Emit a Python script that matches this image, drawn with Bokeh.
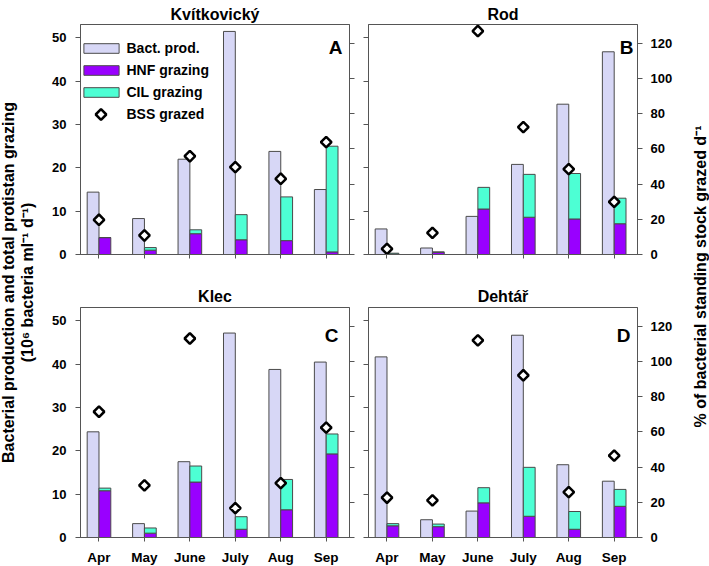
import numpy as np
from bokeh.plotting import figure
from bokeh.models import (Range1d, LinearAxis, FixedTicker, ColumnDataSource,
                          Label, Legend, LegendItem, PolyAnnotation)
from bokeh.transform import dodge
from bokeh.layouts import row, column
from bokeh.embed import file_html
from bokeh.resources import INLINE

# ---------------- data ----------------
months = ["Apr", "May", "June", "July", "Aug", "Sep"]
left_ticks = [0, 10, 20, 30, 40, 50]
right_ticks = [0, 20, 40, 60, 80, 100, 120]

titles = ["Kvítkovický", "Rod", "Klec", "Dehtář"]
letters = ["A", "B", "C", "D"]

bact_A = [14.4, 8.3, 22.0, 51.5, 23.8, 15.0]
hnf_A = [3.9, 1.0, 4.8, 3.4, 3.2, 0.6]
cil_A = [0.0, 0.6, 0.9, 5.8, 10.1, 24.4]
bss_A = [19.7, 10.8, 55.8, 49.6, 43.0, 63.8]

bact_B = [5.9, 1.5, 8.8, 20.8, 34.7, 46.8]
hnf_B = [0.1, 0.5, 10.5, 8.6, 8.2, 7.1]
cil_B = [0.2, 0.1, 5.0, 9.9, 10.5, 5.9]
bss_B = [3.2, 12.3, 126.9, 72.3, 48.5, 29.9]

bact_C = [24.4, 3.2, 17.5, 47.2, 38.8, 40.5]
hnf_C = [10.8, 1.0, 12.8, 1.9, 6.4, 19.3]
cil_C = [0.6, 1.2, 3.7, 2.9, 7.0, 4.6]
bss_C = [71.4, 29.6, 113.0, 16.7, 30.9, 62.4]

bact_D = [41.7, 4.1, 6.1, 46.7, 16.8, 13.0]
hnf_D = [2.7, 2.5, 8.0, 4.9, 1.9, 7.2]
cil_D = [0.5, 0.6, 3.5, 11.3, 4.1, 3.9]
bss_D = [22.6, 21.1, 111.9, 92.1, 25.8, 46.5]

# ---------------- style ----------------
FONT = "Liberation Sans"
C_BACT = "#d7d7f6"
C_HNF = "#9900ff"
C_CIL = "#4dffd4"
C_EDGE = "#4a4a4a"
C_FRAME = "#555555"
FW, FH = 269, 230
X0, X1 = -0.407, 5.513
YL, YR = 53.1, 130.6
BW = 0.26
PPX = FW / (X1 - X0)
PPY = FH / YL
letter_dx = [7, 4, 11, 7]
letter_dy = [23, 23, 28, 28]
MSIZE = 7.5
MLW = 2.5


def style_axis(ax, show_labels, standoff=8, tick_out=5, size="13px"):
    ax.axis_line_color = C_FRAME
    ax.major_tick_line_color = C_FRAME
    ax.major_tick_in = 0
    ax.major_tick_out = tick_out
    ax.minor_tick_line_color = None
    ax.major_label_text_font = FONT
    ax.major_label_text_font_style = "bold"
    ax.major_label_text_color = "#000000"
    if show_labels:
        ax.major_label_text_font_size = size
        ax.major_label_standoff = standoff
    else:
        ax.major_label_text_font_size = "0px"
        ax.major_label_standoff = 0


def make_panel(idx, bact, hnf, cil, bss, top_row, left_col):
    p = figure(frame_width=FW, frame_height=FH,
               x_range=Range1d(X0, X1), y_range=Range1d(0, YL),
               output_backend="svg", toolbar_location=None,
               title=titles[idx],
               min_border_left=32 if left_col else 9,
               min_border_right=10 if left_col else 36,
               min_border_top=24 if top_row else 26,
               min_border_bottom=27 if top_row else 29)
    p.title.align = "center"
    p.title.text_font = FONT
    p.title.text_font_style = "bold"
    p.title.text_font_size = "16px"
    p.title.text_color = "#000000"
    p.title.standoff = 4 if top_row else 6
    p.extra_y_ranges = {"bss": Range1d(0, YR)}
    p.xgrid.visible = False
    p.ygrid.visible = False
    p.outline_line_color = C_FRAME
    p.outline_line_width = 1
    p.background_fill_color = "white"
    p.border_fill_color = "white"

    xa = p.xaxis[0]
    xa.ticker = FixedTicker(ticks=list(range(len(months))))
    xa.major_label_overrides = {i: (m if not top_row else "") for i, m in enumerate(months)}
    style_axis(xa, not top_row, standoff=8, tick_out=4, size="13.5px")

    ya = p.yaxis[0]
    ya.ticker = FixedTicker(ticks=left_ticks)
    if not left_col:
        ya.major_label_overrides = {t: "" for t in left_ticks}
    style_axis(ya, left_col, standoff=9)

    ra = LinearAxis(y_range_name="bss", ticker=FixedTicker(ticks=right_ticks))
    if left_col:
        ra.major_label_overrides = {t: "" for t in right_ticks}
    style_axis(ra, not left_col, standoff=8)
    p.add_layout(ra, "right")

    tot = np.array(hnf) + np.array(cil)
    src = ColumnDataSource(dict(x=np.arange(len(months)), bact=bact, hnf=hnf,
                                tot=tot, bss=bss))
    r_bact = p.vbar(x=dodge("x", -BW / 2), width=BW, top="bact", bottom=0, source=src,
                    fill_color=C_BACT, line_color=C_EDGE, line_width=1)
    r_hnf = p.vbar(x=dodge("x", BW / 2), width=BW, top="hnf", bottom=0, source=src,
                   fill_color=C_HNF, line_color=C_EDGE, line_width=1)
    r_cil = p.vbar(x=dodge("x", BW / 2), width=BW, top="tot", bottom="hnf", source=src,
                   fill_color=C_CIL, line_color=C_EDGE, line_width=1)
    p.scatter(x="x", y="bss", y_range_name="bss", source=src, marker="square",
              angle=np.pi / 4, size=MSIZE, fill_color="white", line_color="black",
              line_width=MLW)

    # panel letter
    p.add_layout(Label(x=X1 - letter_dx[idx] / PPX, y=YL - letter_dy[idx] / PPY,
                       text=letters[idx], text_align="right",
                       text_baseline="alphabetic", text_font=FONT,
                       text_font_style="bold", text_font_size="19px",
                       text_color="#000000"))

    if idx == 0:
        common = dict(padding=0, margin=0, border_line_color=None,
                      background_fill_alpha=0, label_text_font=FONT,
                      label_text_font_style="bold", label_text_font_size="14px",
                      label_text_color="#000000", glyph_width=44, label_standoff=4)
        # legend-only marker renderer (its glyph is invisible; diamond drawn below)
        r_leg = p.scatter(x=[], y=[], marker="square", size=1, fill_alpha=0, line_alpha=0)
        lg1 = Legend(items=[LegendItem(label="Bact. prod.", renderers=[r_bact]),
                            LegendItem(label="HNF grazing", renderers=[r_hnf]),
                            LegendItem(label="CIL grazing", renderers=[r_cil])],
                     location=(-1.5, 154), glyph_height=12, label_height=12,
                     spacing=6, **common)
        lg2 = Legend(items=[LegendItem(label="BSS grazed", renderers=[r_leg])],
                     location=(-1.5, 125), glyph_height=30, label_height=30,
                     spacing=0, **common)
        p.add_layout(lg1)
        p.add_layout(lg2)
        cx = X0 + 20.5 / PPX
        cy = YL - 90 / PPY
        h = MSIZE / np.sqrt(2)
        p.add_layout(PolyAnnotation(xs=[cx - h / PPX, cx, cx + h / PPX, cx],
                                    ys=[cy, cy + h / PPY, cy, cy - h / PPY],
                                    fill_color="white", fill_alpha=1,
                                    line_color="black", line_width=MLW, line_alpha=1))
    return p


pA = make_panel(0, bact_A, hnf_A, cil_A, bss_A, True, True)
pB = make_panel(1, bact_B, hnf_B, cil_B, bss_B, True, False)
pC = make_panel(2, bact_C, hnf_C, cil_C, bss_C, False, True)
pD = make_panel(3, bact_D, hnf_D, cil_D, bss_D, False, False)

TOTAL_H = 566


def label_fig(w):
    f = figure(width=w, height=TOTAL_H, x_range=Range1d(0, w), y_range=Range1d(0, TOTAL_H),
               output_backend="svg", toolbar_location=None,
               min_border_left=0, min_border_right=0, min_border_top=0, min_border_bottom=0)
    f.axis.visible = False
    f.xgrid.visible = False
    f.ygrid.visible = False
    f.outline_line_color = None
    return f


fL = label_fig(48)
fL.add_layout(Label(x=7.5, y=TOTAL_H - 282, angle=np.pi / 2,
                    text="Bacterial production and total protistan grazing",
                    text_align="center", text_baseline="middle", text_font=FONT,
                    text_font_style="bold", text_font_size="16px", text_color="#000000"))
fL.add_layout(Label(x=27, y=TOTAL_H - 282, angle=np.pi / 2,
                    text="(10⁶ bacteria ml⁻¹ d⁻¹)",
                    text_align="center", text_baseline="middle", text_font=FONT,
                    text_font_style="bold", text_font_size="16px", text_color="#000000"))

fR = label_fig(36)
fR.add_layout(Label(x=24.5, y=TOTAL_H - 276, angle=np.pi / 2,
                    text="% of bacterial standing stock grazed d⁻¹",
                    text_align="center", text_baseline="middle", text_font=FONT,
                    text_font_style="bold", text_font_size="16px", text_color="#000000"))

layout = row(fL, column(row(pA, pB), row(pC, pD)), fR)

open("out.html", "w").write(file_html(layout, INLINE))
